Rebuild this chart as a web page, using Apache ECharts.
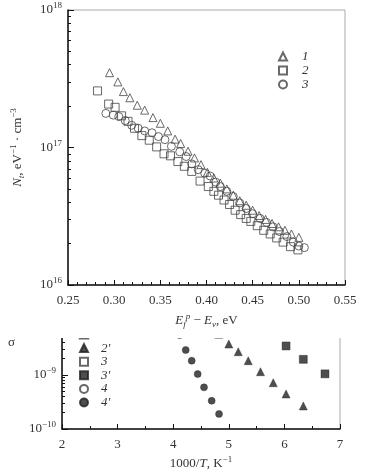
<!DOCTYPE html>
<html>
<head>
<meta charset="utf-8">
<script src="https://cdn.jsdelivr.net/npm/echarts@6/dist/echarts.min.js"></script>
<style>
  html, body { margin: 0; padding: 0; background: #fff; }
  #chart { width: 365px; height: 475px; }
</style>
</head>
<body>
<div id="chart"></div>
<script>
// top panel: N_t vs E_f^p - E_v, three samples
const e1 = [0.295, 0.304, 0.310, 0.317, 0.325, 0.333, 0.342, 0.350, 0.358, 0.366, 0.372, 0.380, 0.387, 0.394, 0.401, 0.408, 0.415, 0.422, 0.429, 0.436, 0.443, 0.450, 0.457, 0.464, 0.471, 0.478, 0.485, 0.492, 0.500];
const nt1 = [3.5e17, 3.0e17, 2.55e17, 2.3e17, 2.03e17, 1.87e17, 1.65e17, 1.5e17, 1.32e17, 1.15e17, 1.07e17, 9.4e16, 8.4e16, 7.5e16, 6.6e16, 6.0e16, 5.5e16, 5.0e16, 4.5e16, 4.1e16, 3.8e16, 3.5e16, 3.2e16, 3.0e16, 2.8e16, 2.65e16, 2.5e16, 2.35e16, 2.22e16];

const e2 = [0.282, 0.294, 0.301, 0.308, 0.315, 0.322, 0.330, 0.338, 0.346, 0.354, 0.361, 0.369, 0.376, 0.384, 0.393, 0.402, 0.408, 0.413, 0.419, 0.425, 0.431, 0.437, 0.443, 0.448, 0.455, 0.462, 0.469, 0.476, 0.483, 0.491, 0.499];
const nt2 = [2.58e17, 2.07e17, 1.96e17, 1.70e17, 1.55e17, 1.38e17, 1.22e17, 1.13e17, 1.01e17, 9.0e16, 8.7e16, 7.9e16, 7.3e16, 6.7e16, 5.7e16, 5.2e16, 4.8e16, 4.5e16, 4.15e16, 3.85e16, 3.5e16, 3.25e16, 3.05e16, 2.9e16, 2.7e16, 2.5e16, 2.35e16, 2.2e16, 2.05e16, 1.9e16, 1.8e16];

const e3 = [0.291, 0.299, 0.305, 0.312, 0.319, 0.326, 0.333, 0.341, 0.348, 0.355, 0.362, 0.371, 0.378, 0.384, 0.391, 0.398, 0.404, 0.410, 0.415, 0.422, 0.429, 0.436, 0.443, 0.450, 0.458, 0.465, 0.472, 0.479, 0.487, 0.494, 0.500, 0.506];
const nt3 = [1.77e17, 1.72e17, 1.68e17, 1.57e17, 1.45e17, 1.38e17, 1.32e17, 1.28e17, 1.20e17, 1.14e17, 1.02e17, 9.3e16, 8.6e16, 7.6e16, 6.9e16, 6.5e16, 6.2e16, 5.6e16, 5.2e16, 4.8e16, 4.4e16, 3.95e16, 3.6e16, 3.3e16, 3.05e16, 2.85e16, 2.65e16, 2.45e16, 2.25e16, 2.05e16, 1.92e16, 1.87e16];

// bottom panel: sigma vs 1000/T (only the lower part is visible)
const t2p = [4.82, 5.00, 5.17, 5.35, 5.57, 5.80, 6.03, 6.34];
const s2p = [5.7e-9, 3.75e-9, 2.7e-9, 1.84e-9, 1.15e-9, 7.2e-10, 4.45e-10, 2.67e-10];
const t3p = [6.03, 6.34, 6.73];
const s3p = [3.45e-9, 1.95e-9, 1.05e-9];
const t4p = [4.115, 4.225, 4.333, 4.44, 4.554, 4.692, 4.824];
const s4p = [5.5e-9, 2.9e-9, 1.84e-9, 1.04e-9, 5.9e-10, 3.34e-10, 1.9e-10];

// minor tick values for the log axes
const ntMinor = [];
[1e16, 1e17].forEach(d => { for (let k = 2; k <= 9; k++) ntMinor.push(k * d); });
const sMinor = [];
[1e-10, 1e-9].forEach(d => { for (let k = 2; k <= 9; k++) sMinor.push(k * d); });

const zip = (xs, ys) => xs.map((x, i) => [x, ys[i]]);

const FONT = '"Liberation Serif", "DejaVu Serif", serif';
const INK = '#333';
const MARK = '#444';

const powLabel = v => {
    const e = Math.round(Math.log10(v));
    return '{b|10}{e|' + (e < 0 ? '\u2212' + (-e) : e) + '}';
};
const powRich = {
    b: { fontFamily: FONT, fontSize: 13, color: INK },
    e: { fontFamily: FONT, fontSize: 9, color: INK, verticalAlign: 'top', padding: [0, 0, 8, 0] }
};

const hollow = (name, symbol, data, axis) => ({
    name, type: 'scatter', xAxisIndex: axis, yAxisIndex: axis * 2,
    symbol, symbolSize: 8, data,
    itemStyle: { color: 'rgba(255,255,255,0)', borderColor: MARK, borderWidth: 1 }
});
const filled = (name, symbol, size, data) => ({
    name, type: 'scatter', xAxisIndex: 1, yAxisIndex: 2,
    symbol, symbolSize: size, data,
    itemStyle: { color: '#222', borderColor: '#222', borderWidth: 0.5 }
});

const chart = echarts.init(document.getElementById('chart'));
chart.setOption({
    animation: false,
    backgroundColor: '#fff',
    grid: [
        { left: 68, top: 10, width: 277, height: 275, show: true, borderColor: '#aaa', borderWidth: 1 },
        { left: 62, top: 321, width: 278, height: 108, show: true, borderColor: '#aaa', borderWidth: 1 }
    ],
    xAxis: [
        {
            gridIndex: 0, type: 'value', min: 0.25, max: 0.55, interval: 0.05, z: 110,
            axisLine: { lineStyle: { color: '#111', width: 1.5 } },
            axisTick: { inside: true, length: 5, lineStyle: { color: '#111' } },
            minorTick: { show: true, splitNumber: 5, length: 3, lineStyle: { color: '#111' } },
            splitLine: { show: false },
            axisLabel: { margin: 9, fontFamily: FONT, fontSize: 13, color: INK, formatter: v => v.toFixed(2) },
            name: '{it|E}{sub|f}{sup|p}{n| \u2212 }{it|E}{sub|v}{n|, eV}',
            nameLocation: 'middle', nameGap: 25,
            nameTextStyle: {
                rich: {
                    it: { fontFamily: FONT, fontSize: 13, fontStyle: 'italic', color: INK },
                    n: { fontFamily: FONT, fontSize: 13, color: INK },
                    sub: { fontFamily: FONT, fontSize: 9, fontStyle: 'italic', color: INK, verticalAlign: 'bottom', padding: [6, 0, 0, 0] },
                    sup: { fontFamily: FONT, fontSize: 9, fontStyle: 'italic', color: INK, verticalAlign: 'top', padding: [0, 0, 8, 0] }
                }
            }
        },
        {
            gridIndex: 1, type: 'value', min: 2, max: 7, interval: 1,
            axisLine: { lineStyle: { color: '#111', width: 1.5 } },
            axisTick: { inside: true, length: 5, lineStyle: { color: '#111' } },
            minorTick: { show: true, splitNumber: 2, length: 3, lineStyle: { color: '#111' } },
            splitLine: { show: false },
            axisLabel: { margin: 9, fontFamily: FONT, fontSize: 13, color: INK },
            name: '{n|1000/}{it|T}{n|, K}{sup|\u22121}',
            nameLocation: 'middle', nameGap: 26,
            nameTextStyle: {
                rich: {
                    it: { fontFamily: FONT, fontSize: 13, fontStyle: 'italic', color: INK },
                    n: { fontFamily: FONT, fontSize: 13, color: INK },
                    sup: { fontFamily: FONT, fontSize: 9, color: INK, verticalAlign: 'top', padding: [0, 0, 8, 0] }
                }
            }
        }
    ],
    yAxis: [
        {
            gridIndex: 0, type: 'log', logBase: 10, min: 1e16, max: 1e18, interval: 1,
            axisLine: { lineStyle: { color: '#111', width: 1.5 } },
            axisTick: { inside: true, length: 6, lineStyle: { color: '#111' } },
            splitLine: { show: false },
            axisLabel: { margin: 6, formatter: powLabel, rich: powRich },
            name: '{it|N}{sub|t}{n|, eV}{sup|\u22121}{n| \u00b7 cm}{sup|\u22123}',
            nameLocation: 'middle', nameRotate: 90, nameGap: 42,
            nameTextStyle: {
                rich: {
                    it: { fontFamily: FONT, fontSize: 13, fontStyle: 'italic', color: INK },
                    n: { fontFamily: FONT, fontSize: 13, color: INK },
                    sub: { fontFamily: FONT, fontSize: 9, fontStyle: 'italic', color: INK, verticalAlign: 'bottom', padding: [6, 0, 0, 0] },
                    sup: { fontFamily: FONT, fontSize: 9, color: INK, verticalAlign: 'top', padding: [0, 0, 8, 0] }
                }
            }
        },
        {
            gridIndex: 0, type: 'log', logBase: 10, min: 1e16, max: 1e18, position: 'left',
            axisLine: { show: false }, axisLabel: { show: false }, splitLine: { show: false },
            axisTick: { inside: true, length: 3, customValues: ntMinor, lineStyle: { color: '#111' } }
        },
        {
            gridIndex: 1, type: 'log', logBase: 10, min: 1e-10, max: 1e-8, interval: 1,
            axisLine: { lineStyle: { color: '#111', width: 1.5 } },
            axisTick: { inside: true, length: 6, lineStyle: { color: '#111' } },
            splitLine: { show: false },
            axisLabel: { margin: 6, showMaxLabel: false, formatter: powLabel, rich: powRich }
        },
        {
            gridIndex: 1, type: 'log', logBase: 10, min: 1e-10, max: 1e-8, position: 'left',
            axisLine: { show: false }, axisLabel: { show: false }, splitLine: { show: false },
            axisTick: { inside: true, length: 3, customValues: sMinor, lineStyle: { color: '#111' } }
        }
    ],
    legend: [
        {
            data: ['1', '2', '3'], orient: 'vertical', left: 278, top: 50, padding: 0,
            itemWidth: 8, itemHeight: 8, itemGap: 1,
            textStyle: { fontFamily: FONT, fontSize: 13, fontStyle: 'italic', color: INK, padding: [0, 0, 0, 10] }
        },
        {
            data: ['b2', "b2'", 'b3', "b3'", 'b4', "b4'"], orient: 'vertical', left: 79, top: 328, padding: 0,
            itemWidth: 8, itemHeight: 8, itemGap: 0.6,
            formatter: n => n.slice(1),
            textStyle: { fontFamily: FONT, fontSize: 13, fontStyle: 'italic', color: INK, padding: [0, 0, 0, 8] }
        }
    ],
    series: [
        hollow('1', 'triangle', zip(e1, nt1), 0),
        hollow('2', 'rect', zip(e2, nt2), 0),
        hollow('3', 'circle', zip(e3, nt3), 0),
        hollow('b2', 'triangle', [], 1),
        filled("b2'", 'triangle', 8, zip(t2p, s2p)),
        hollow('b3', 'rect', [], 1),
        filled("b3'", 'rect', 8, zip(t3p, s3p)),
        hollow('b4', 'circle', [], 1),
        filled("b4'", 'circle', 7, zip(t4p, s4p))
    ],
    graphic: [
        // the lower panel is cut off at the top
        { type: 'rect', z: 100, shape: { x: 0, y: 319, width: 365, height: 19 }, style: { fill: '#fff' } },
        { type: 'text', z: 101, left: 8, top: 336, style: { text: '\u03c3', font: '13px ' + FONT, fill: INK } }
    ]
});
</script>
</body>
</html>
